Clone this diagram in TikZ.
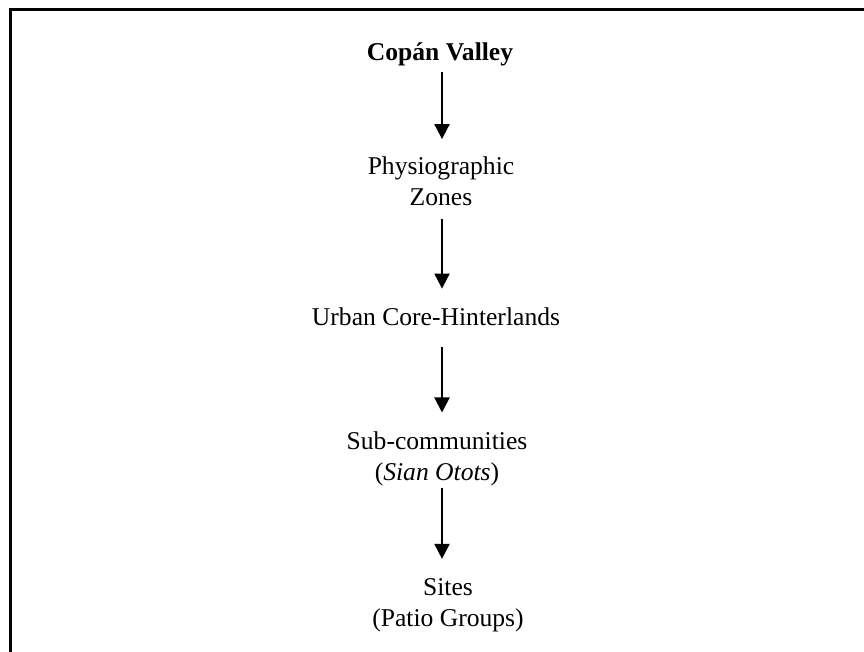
\documentclass[tikz,border=0pt]{standalone}
\usepackage{fontspec}
\setmainfont{Liberation Serif}
\usetikzlibrary{arrows.meta}
\begin{document}
\begin{tikzpicture}[x=0.5pt,y=-0.5pt,>={Triangle[length=7.5pt,width=7.5pt]},
  level/.style={align=center,inner sep=0pt,font=\fontsize{12.8}{15.5}\selectfont},
  flow/.style={->,line width=1pt}]
  \useasboundingbox (0,0) rectangle (864,652);
  % Rahmen
  \draw[line width=1.2pt] (10.5,652) -- (10.5,9.5) -- (864,9.5);
  \coordinate (axis) at (442,0);

  % Ebenen
  \node[level] (valley) at (440,54)  {\textbf{Copán Valley}};
  \node[level] (zones)  at (441,181) {Physiographic\\Zones};
  \node[level] (core)   at (436,317) {Urban Core-Hinterlands};
  \node[level] (sub)    at (437,459) {Sub-communities\\(\textit{Sian Otots})};
  \node[level] (sites)  at (448,605) {Sites\\(Patio Groups)};

  % Pfeile
  \foreach \a/\b/\s/\e in {valley/zones/3pt/8.5pt,zones/core/6.5pt/9.5pt,
                           core/sub/10.5pt/9.5pt,sub/sites/0.5pt/9.5pt} {
    \draw[flow,shorten <=\s,shorten >=\e] (\a.south -| axis) -- (\b.north -| axis);
  }
\end{tikzpicture}
\end{document}
